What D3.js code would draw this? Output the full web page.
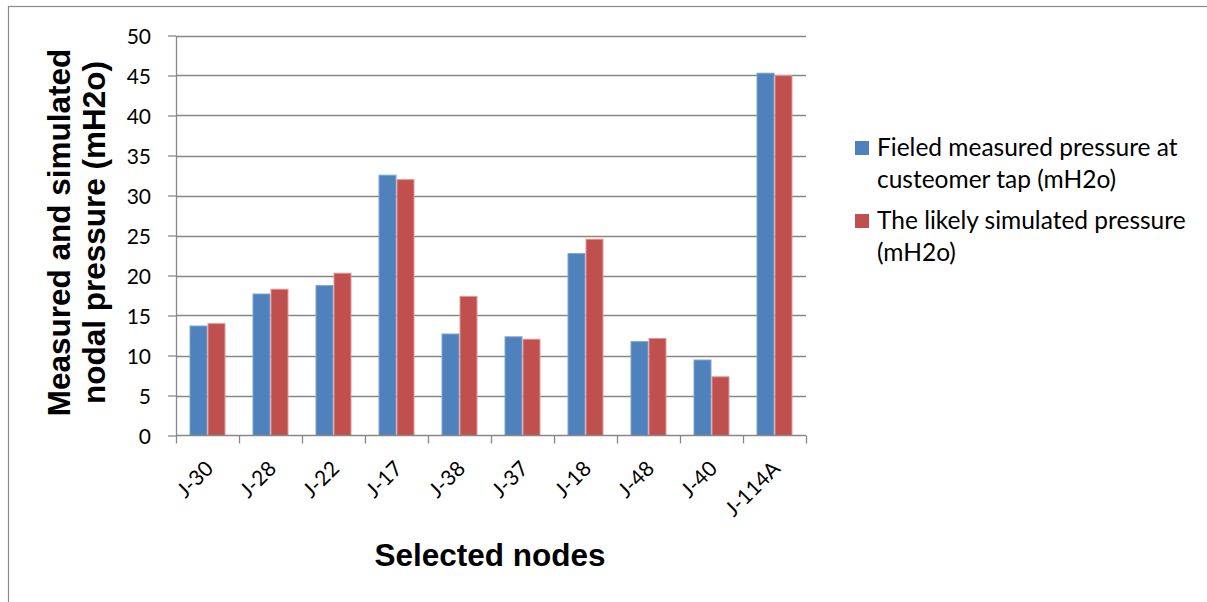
<!DOCTYPE html>
<html>
<head>
<meta charset="utf-8">
<script src="https://cdn.jsdelivr.net/npm/d3@7"></script>
<style>
  html, body { margin: 0; padding: 0; background: #fff; }
  svg { display: block; }
</style>
</head>
<body>
<svg id="chart" width="1207" height="602"></svg>
<script>
// Selected network nodes
const nodes = ["J-30", "J-28", "J-22", "J-17", "J-38", "J-37", "J-18", "J-48", "J-40", "J-114A"];
// Field measured pressure at customer tap (mH2o)
const measured = [13.75, 17.75, 18.8, 32.6, 12.75, 12.4, 22.8, 11.8, 9.5, 45.35];
// Likely simulated pressure (mH2o)
const simulated = [14.05, 18.35, 20.35, 32.05, 17.45, 12.1, 24.6, 12.2, 7.4, 45.05];
// Value axis ticks
const yTicks = [0, 5, 10, 15, 20, 25, 30, 35, 40, 45, 50];

const seriesNames = [
  ["Fieled measured pressure at", "custeomer tap (mH2o)"],
  ["The likely simulated pressure", "(mH2o)"]
];
const seriesKeys = ["measured", "simulated"];
const colors = { measured: "#4F81BD", simulated: "#C0504D" };
const strokes = { measured: "#7FA3D3", simulated: "#E09A98" };

const svg = d3.select("#chart");
const labelFont = "Lato, 'Open Sans', sans-serif";
const titleFont = "'Liberation Sans', Arial, sans-serif";
const gridColor = "#878787";

// Outer chart frame
svg.append("rect")
  .attr("x", 8.5).attr("y", 6.5)
  .attr("width", 1300).attr("height", 700)
  .attr("fill", "none").attr("stroke", "#8a8a8a").attr("stroke-width", 1.2);

const x0 = 176, x1 = 806, yBottom = 435.5, yTop = 35.5;

const x = d3.scaleBand().domain(nodes).range([x0, x1]).paddingInner(0).paddingOuter(0);
const xs = d3.scaleBand().domain(seriesKeys).range([0, x.bandwidth()]).paddingInner(0).paddingOuter(0.75);
const y = d3.scaleLinear().domain([0, 50]).range([yBottom, yTop]);

// Horizontal gridlines
svg.append("g")
  .selectAll("line")
  .data(yTicks.filter(d => d > 0))
  .join("line")
  .attr("x1", x0).attr("x2", x1)
  .attr("y1", d => Math.round(y(d)) + 0.5).attr("y2", d => Math.round(y(d)) + 0.5)
  .attr("stroke", gridColor).attr("stroke-width", 1.3);

// Bars
const rows = nodes.map((n, i) => ({ node: n, measured: measured[i], simulated: simulated[i] }));
const groups = svg.append("g")
  .selectAll("g")
  .data(rows)
  .join("g")
  .attr("transform", d => `translate(${x(d.node)},0)`);

groups.selectAll("rect")
  .data(d => seriesKeys.map(k => ({ key: k, value: d[k] })))
  .join("rect")
  .attr("x", d => xs(d.key) + 0.5)
  .attr("width", xs.bandwidth() - 1)
  .attr("y", d => y(d.value) + 0.5)
  .attr("height", d => yBottom - y(d.value) - 0.5)
  .attr("fill", d => colors[d.key])
  .attr("stroke", d => strokes[d.key])
  .attr("stroke-width", 1);

// Y axis
const yAxis = svg.append("g")
  .attr("transform", `translate(${x0},0)`)
  .call(d3.axisLeft(y).tickValues(yTicks).tickSize(8).tickPadding(17).tickSizeOuter(0));
yAxis.select(".domain").attr("stroke", gridColor).attr("stroke-width", 1.3);
yAxis.selectAll(".tick line").attr("stroke", gridColor).attr("stroke-width", 1.3);
yAxis.selectAll(".tick text")
  .attr("font-family", labelFont).attr("font-size", 21).attr("fill", "#000")
  .attr("dy", "0.36em");

// X axis with ticks at category boundaries
const xAxisG = svg.append("g").attr("transform", `translate(0,${yBottom})`);
xAxisG.append("line")
  .attr("x1", x0).attr("x2", x1).attr("y1", 0).attr("y2", 0)
  .attr("stroke", gridColor).attr("stroke-width", 1.3);
const boundaries = nodes.map(n => x(n)).concat([x1]);
xAxisG.selectAll("line.tick")
  .data(boundaries)
  .join("line")
  .attr("class", "tick")
  .attr("x1", d => Math.round(d) + 0.5).attr("x2", d => Math.round(d) + 0.5)
  .attr("y1", 0).attr("y2", 8)
  .attr("stroke", gridColor).attr("stroke-width", 1.3);

svg.append("g")
  .selectAll("text")
  .data(nodes)
  .join("text")
  .attr("transform", d => `translate(${x(d) + x.bandwidth() / 2 + 7},470) rotate(-45)`)
  .attr("text-anchor", "end")
  .attr("font-family", labelFont).attr("font-size", 21).attr("fill", "#000")
  .text(d => d);

// Axis titles
const yTitle = svg.append("text")
  .attr("transform", "translate(0,232.5) rotate(-90)")
  .attr("text-anchor", "middle")
  .attr("font-family", titleFont).attr("font-weight", "bold").attr("font-size", 31.5).attr("fill", "#000");
yTitle.append("tspan").attr("x", 0).attr("y", 70).text("Measured and simulated");
yTitle.append("tspan").attr("x", 0).attr("y", 105).text("nodal pressure (mH2o)");

svg.append("text")
  .attr("x", 490).attr("y", 566)
  .attr("text-anchor", "middle")
  .attr("font-family", titleFont).attr("font-weight", "bold").attr("font-size", 31.5).attr("fill", "#000")
  .text("Selected nodes");

// Legend
const legendBase = [156, 229];
const legend = svg.append("g");
seriesKeys.forEach((k, i) => {
  const b = legendBase[i];
  legend.append("rect")
    .attr("x", 855).attr("y", b - 15)
    .attr("width", 14).attr("height", 14)
    .attr("fill", colors[k]);
  const t = legend.append("text")
    .attr("font-family", labelFont).attr("font-size", 24.5).attr("fill", "#000");
  seriesNames[i].forEach((line, j) => {
    t.append("tspan").attr("x", 877).attr("y", b + j * 32).text(line);
  });
});
</script>
</body>
</html>
